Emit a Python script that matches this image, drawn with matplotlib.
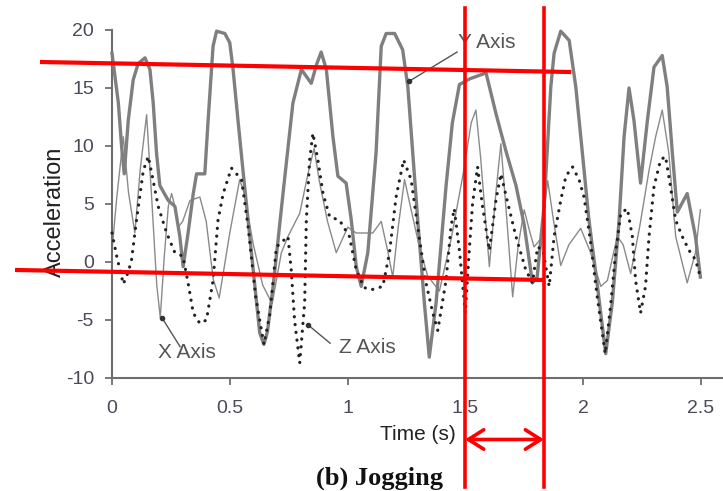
import matplotlib
matplotlib.use("Agg")
import matplotlib.pyplot as plt

plt.rcParams['font.family'] = ['Liberation Sans', 'DejaVu Sans']
plt.rcParams['axes.unicode_minus'] = False

# Y axis acceleration (thick grey line)
y_time = [0.0, 0.027, 0.041, 0.052, 0.069, 0.09, 0.111, 0.14, 0.161, 0.175,
          0.189, 0.203, 0.239, 0.267, 0.288, 0.302, 0.323, 0.345, 0.359, 0.394,
          0.408, 0.429, 0.444, 0.479, 0.5, 0.514, 0.535, 0.556, 0.592, 0.627,
          0.645, 0.66, 0.684, 0.726, 0.768, 0.804, 0.825, 0.846, 0.868, 0.888,
          0.91, 0.938, 0.959, 0.994, 1.016, 1.037, 1.058, 1.086, 1.121, 1.143,
          1.164, 1.2, 1.234, 1.256, 1.298, 1.326, 1.347, 1.376, 1.418, 1.445,
          1.475, 1.52, 1.588, 1.63, 1.672, 1.715, 1.75, 1.785, 1.805, 1.835,
          1.863, 1.877, 1.905, 1.941, 1.969, 1.997, 2.025, 2.061, 2.096, 2.124,
          2.153, 2.174, 2.195, 2.216, 2.244, 2.273, 2.301, 2.336, 2.357, 2.379,
          2.4, 2.442, 2.477, 2.498]
y_acc = [18.0, 13.7, 9.9, 7.6, 12.2, 15.7, 17.1, 17.6, 16.6, 13.7,
         9.4, 6.6, 5.3, 4.8, 2.2, -0.4, 2.5, 5.9, 7.6, 7.6,
         12.2, 18.6, 19.9, 19.7, 18.9, 16.6, 12.2, 7.9, 0.8, -6.1,
         -7.1, -6.0, -2.1, 5.9, 13.7, 16.6, 16.0, 15.4, 17.0, 18.1,
         16.6, 10.8, 7.4, 6.8, 3.6, -0.4, -2.1, 0.8, 9.4, 18.6,
         19.7, 19.7, 18.3, 15.1, 3.6, -3.5, -8.2, -3.5, 6.5, 12.0,
         15.3, 15.8, 16.3, 12.8, 9.6, 6.6, 3.2, -1.8, -1.3, 5.0,
         15.1, 18.0, 19.9, 19.1, 15.1, 9.4, 3.6, -2.1, -7.9, -3.5,
         3.6, 10.8, 15.0, 12.2, 6.8, 12.2, 16.8, 17.8, 15.1, 9.4,
         4.3, 5.9, 2.2, -1.3]

# X axis acceleration (thin grey line)
x_time = [0.0, 0.02, 0.048, 0.07, 0.097, 0.12, 0.147, 0.17, 0.19, 0.205,
          0.222, 0.239, 0.253, 0.267, 0.281, 0.3, 0.331, 0.373, 0.4, 0.43,
          0.455, 0.48, 0.5, 0.542, 0.56, 0.6, 0.64, 0.68, 0.719, 0.747,
          0.797, 0.832, 0.858, 0.88, 0.915, 0.952, 1.001, 1.037, 1.107, 1.143,
          1.17, 1.192, 1.215, 1.242, 1.27, 1.305, 1.34, 1.39, 1.44, 1.49,
          1.525, 1.545, 1.565, 1.602, 1.63, 1.651, 1.675, 1.701, 1.725, 1.75,
          1.775, 1.792, 1.82, 1.85, 1.875, 1.905, 1.94, 1.99, 2.032, 2.075,
          2.103, 2.145, 2.17, 2.202, 2.24, 2.28, 2.308, 2.336, 2.364, 2.393,
          2.442, 2.477, 2.498]
x_acc = [1.0, 5.5, 10.8, 6.0, 2.5, 8.0, 12.7, 5.0, -2.0, -4.8,
         0.5, 4.8, 5.9, 4.8, 3.0, 3.5, 5.3, 5.6, 3.5, -1.5,
         -3.1, 0.0, 2.5, 7.1, 6.0, 1.5, -2.0, -3.6, 0.8, 2.2,
         4.2, 7.6, 9.8, 7.0, 3.5, 0.8, 3.0, 2.5, 2.5, 3.5,
         1.0, -1.3, 3.0, 7.1, 4.5, 1.3, -1.2, -2.5, 2.0, 7.5,
         12.0, 13.1, 9.0, -0.4, 6.0, 10.2, 4.0, -3.0, 1.5, 4.5,
         2.5, 1.3, 2.0, 7.0, 3.5, -0.3, 1.5, 2.9, 0.8, -2.1,
         -1.6, 2.2, 1.5, -1.0, 3.0, 7.9, 10.8, 13.1, 9.4, 2.2,
         -1.8, 0.8, 4.5]

# Z axis acceleration (dotted line)
z_time = [0.0, 0.02, 0.048, 0.07, 0.083, 0.104, 0.133, 0.154, 0.174, 0.196,
          0.232, 0.267, 0.301, 0.323, 0.345, 0.373, 0.401, 0.429, 0.45, 0.472,
          0.507, 0.55, 0.578, 0.61, 0.645, 0.67, 0.698, 0.747, 0.761, 0.775,
          0.797, 0.818, 0.825, 0.839, 0.853, 0.874, 0.896, 0.924, 0.966, 1.008,
          1.037, 1.07, 1.1, 1.15, 1.178, 1.206, 1.238, 1.27, 1.298, 1.333,
          1.362, 1.383, 1.418, 1.439, 1.453, 1.475, 1.5, 1.515, 1.531, 1.552,
          1.573, 1.602, 1.63, 1.651, 1.68, 1.715, 1.757, 1.785, 1.807, 1.83,
          1.856, 1.877, 1.905, 1.927, 1.955, 1.983, 2.004, 2.03, 2.06, 2.094,
          2.118, 2.138, 2.16, 2.188, 2.209, 2.223, 2.244, 2.265, 2.28, 2.301,
          2.329, 2.35, 2.371, 2.393, 2.421, 2.45, 2.477, 2.498]
z_acc = [2.5, 0.5, -1.9, -0.8, 0.2, 3.6, 7.9, 9.1, 7.1, 4.8,
         2.5, 0.8, 0.5, -1.8, -4.4, -5.3, -5.0, -1.6, 3.6, 5.9,
         8.1, 7.1, 3.0, -3.0, -7.1, -4.5, 1.3, 2.2, -0.7, -5.0,
         -8.7, -3.5, 3.6, 8.8, 11.1, 8.8, 5.9, 3.9, 3.6, 2.2,
         -0.7, -2.2, -2.4, -2.1, 0.8, 5.6, 8.8, 7.1, 3.0, -1.8,
         -4.4, -5.9, -1.6, 3.0, 4.6, 1.0, -4.4, 0.5, 5.1, 8.2,
         4.8, 1.0, 5.3, 7.6, 5.1, 2.2, -0.7, -1.8, 1.3, 1.0,
         -2.1, 2.2, 5.3, 7.4, 8.2, 7.1, 5.6, 2.0, -3.0, -7.9,
         -3.5, 0.8, 4.2, 4.6, 2.2, -1.6, -4.4, -2.1, 2.2, 6.5,
         8.8, 9.1, 6.5, 3.6, 2.2, 1.0, 0.2, -1.3]

x_ticks = [0, 0.5, 1, 1.5, 2, 2.5]
x_tick_labels = ['0', '0.5', '1', '1.5', '2', '2.5']
y_ticks = [-10, -5, 0, 5, 10, 15, 20]

# series labels: text, point on curve, leader end, text centre
labels = [('Y Axis', (1.263, 15.6), (1.465, 18.1), (1.592, 18.9)),
          ('X Axis', (0.212, -4.8), (0.289, -7.3), (0.318, -7.8)),
          ('Z Axis', (0.831, -5.4), (0.926, -7.0), (1.085, -7.4))]

# red markup drawn over the chart
red_upper = ([-0.297, 1.941], [17.24, 16.38])
red_lower = ([-0.403, 1.830], [-0.69, -1.55])
red_vert = [1.499, 1.834]
red_vert_span = (21.9, -19.4)
arrow_y = -15.3

fig = plt.figure(figsize=(7.23, 4.91), dpi=100)
ax = fig.add_axes([112 / 723, 1 - 378 / 491, 611 / 723, 348 / 491])

ax.plot(y_time, y_acc, color='#7f7f7f', lw=2.4, solid_joinstyle='round',
        clip_on=False, zorder=3)
ax.plot(x_time, x_acc, color='#8a8a8a', lw=1.0, solid_joinstyle='round',
        clip_on=False, zorder=2)
ax.plot(z_time, z_acc, color='#222222', lw=2.3, linestyle=(0, (0.05, 2.4)),
        dash_capstyle='round', clip_on=False, zorder=4)

for text, pt, end, pos in labels:
    ax.plot([pt[0], end[0]], [pt[1], end[1]], color='#555555', lw=1.0, zorder=5)
    ax.plot([pt[0]], [pt[1]], 'o', ms=3, color='#333333', zorder=5)
    ax.text(pos[0], pos[1], text, ha='center', va='center', fontsize=15,
            color='#555555', zorder=5)

ax.set_xlim(0, 2.594)
ax.set_ylim(-10, 20)
ax.set_xticks(x_ticks)
ax.set_xticklabels(x_tick_labels)
ax.set_yticks(y_ticks)
for side in ['top', 'right']:
    ax.spines[side].set_visible(False)
for side in ['left', 'bottom']:
    ax.spines[side].set_color('#6e6e6e')
    ax.spines[side].set_linewidth(1.5)
ax.tick_params(axis='both', direction='out', length=5, width=1.3,
               color='#6e6e6e', labelsize=14, labelcolor='#4a4a58')
ax.tick_params(axis='y', pad=8)
ax.tick_params(axis='x', pad=11)

ax.set_ylabel('Acceleration', fontsize=17, color='#222222')
ax.yaxis.set_label_coords(-0.075, 0.477)
ax.set_xlabel('Time (s)', fontsize=15, color='#222222')
ax.xaxis.set_label_coords(0.501, -0.135)

fig.text(380 / 723, 1 - 485 / 491, '(b) Jogging', ha='center', va='baseline',
         fontsize=19, fontweight='bold', family='Liberation Serif', color='#111111')

# red markup
red = '#ff0000'
ax.plot(*red_upper, color=red, lw=3, clip_on=False, zorder=6)
ax.plot(*red_lower, color=red, lw=3, clip_on=False, zorder=6)
for xv in red_vert:
    ax.plot([xv, xv], red_vert_span, color=red, lw=2.6, clip_on=False, zorder=6)
ax.annotate('', xy=(red_vert[1], arrow_y), xytext=(red_vert[0], arrow_y),
            annotation_clip=False,
            arrowprops=dict(arrowstyle='<->, head_length=1.1, head_width=0.7',
                            color=red, lw=2.6, mutation_scale=10,
                            shrinkA=0, shrinkB=0))

fig.savefig('out.png', dpi=100)
